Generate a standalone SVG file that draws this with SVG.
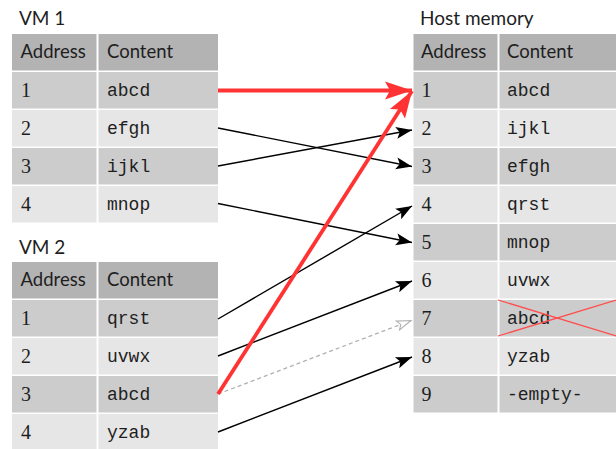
<svg xmlns="http://www.w3.org/2000/svg" width="616" height="449" viewBox="0 0 616 449">
<style>
.hd{fill:#b3b3b3}
.dk{fill:#cccccc}
.lt{fill:#e6e6e6}
.title{font-family:Lato,"Liberation Sans",sans-serif;font-size:19px;fill:#1e1e1e}
.th{font-family:Lato,"Liberation Sans",sans-serif;font-size:18.5px;fill:#1e1e1e}
.num{font-family:"Liberation Serif",serif;font-size:20px;fill:#1e1e1e}
.mono{font-family:"Liberation Mono",monospace;font-size:18px;fill:#1e1e1e}
.blk{stroke:#000;stroke-width:1.4;fill:none}
.red{stroke:#ff3333;stroke-width:3.8;fill:none}
.dash{stroke:#b0b0b0;stroke-width:1.3;stroke-dasharray:4 3;fill:none}
.cross{stroke:#ff4d4d;stroke-width:1.3}
</style>
<defs>
<marker id="ab" markerUnits="userSpaceOnUse" markerWidth="20" markerHeight="14" refX="16" refY="6" orient="auto" overflow="visible">
<path d="M0,0 L16,6 L0,12 L3.5,6 Z" fill="#000"/>
</marker>
<marker id="ar" markerUnits="userSpaceOnUse" markerWidth="30" markerHeight="20" refX="27" refY="9" orient="auto" overflow="visible">
<path d="M0,0 L27,9 L0,18 L5,9 Z" fill="#ff3333"/>
</marker>
<marker id="ag" markerUnits="userSpaceOnUse" markerWidth="20" markerHeight="14" refX="15" refY="5.5" orient="auto" overflow="visible">
<path d="M1,0.8 L15,5.5 L1,10.2 L4,5.5 Z" fill="#fff" stroke="#b0b0b0" stroke-width="1.1"/>
</marker>
</defs>
<rect width="616" height="449" fill="#fff"/>

<g id="vm1">
<text class="title" x="19" y="24.5">VM 1</text>
<rect class="hd" x="12" y="34" width="84.5" height="36.5"/>
<rect class="hd" x="98.5" y="34" width="119.5" height="36.5"/>
<text class="th" x="20.5" y="58">Address</text>
<text class="th" x="107" y="58">Content</text>
<rect class="dk" x="12" y="72" width="84.5" height="36.5"/>
<rect class="dk" x="98.5" y="72" width="119.5" height="36.5"/>
<text class="num" x="21" y="96.5">1</text>
<text class="mono" x="107" y="96">abcd</text>
<rect class="lt" x="12" y="110" width="84.5" height="36.5"/>
<rect class="lt" x="98.5" y="110" width="119.5" height="36.5"/>
<text class="num" x="21" y="134.5">2</text>
<text class="mono" x="107" y="134">efgh</text>
<rect class="dk" x="12" y="148" width="84.5" height="36.5"/>
<rect class="dk" x="98.5" y="148" width="119.5" height="36.5"/>
<text class="num" x="21" y="172.5">3</text>
<text class="mono" x="107" y="172">ijkl</text>
<rect class="lt" x="12" y="186" width="84.5" height="36.5"/>
<rect class="lt" x="98.5" y="186" width="119.5" height="36.5"/>
<text class="num" x="21" y="210.5">4</text>
<text class="mono" x="107" y="210">mnop</text>
</g>

<g id="vm2">
<text class="title" x="19" y="253.5">VM 2</text>
<rect class="hd" x="12" y="262" width="84.5" height="36.5"/>
<rect class="hd" x="98.5" y="262" width="119.5" height="36.5"/>
<text class="th" x="20.5" y="286">Address</text>
<text class="th" x="107" y="286">Content</text>
<rect class="dk" x="12" y="300" width="84.5" height="36.5"/>
<rect class="dk" x="98.5" y="300" width="119.5" height="36.5"/>
<text class="num" x="21" y="324.5">1</text>
<text class="mono" x="107" y="324">qrst</text>
<rect class="lt" x="12" y="338" width="84.5" height="36.5"/>
<rect class="lt" x="98.5" y="338" width="119.5" height="36.5"/>
<text class="num" x="21" y="362.5">2</text>
<text class="mono" x="107" y="362">uvwx</text>
<rect class="dk" x="12" y="376" width="84.5" height="36.5"/>
<rect class="dk" x="98.5" y="376" width="119.5" height="36.5"/>
<text class="num" x="21" y="400.5">3</text>
<text class="mono" x="107" y="400">abcd</text>
<rect class="lt" x="12" y="414" width="84.5" height="36.5"/>
<rect class="lt" x="98.5" y="414" width="119.5" height="36.5"/>
<text class="num" x="21" y="438.5">4</text>
<text class="mono" x="107" y="438">yzab</text>
</g>

<g id="host">
<text class="title" x="420" y="24.5">Host memory</text>
<rect class="hd" x="413.5" y="34" width="84" height="36.5"/>
<rect class="hd" x="499.5" y="34" width="130" height="36.5"/>
<text class="th" x="421" y="58">Address</text>
<text class="th" x="507" y="58">Content</text>
<rect class="dk" x="413.5" y="72" width="84" height="36.5"/>
<rect class="dk" x="499.5" y="72" width="130" height="36.5"/>
<text class="num" x="421.5" y="96.5">1</text>
<text class="mono" x="507" y="96">abcd</text>
<rect class="lt" x="413.5" y="110" width="84" height="36.5"/>
<rect class="lt" x="499.5" y="110" width="130" height="36.5"/>
<text class="num" x="421.5" y="134.5">2</text>
<text class="mono" x="507" y="134">ijkl</text>
<rect class="dk" x="413.5" y="148" width="84" height="36.5"/>
<rect class="dk" x="499.5" y="148" width="130" height="36.5"/>
<text class="num" x="421.5" y="172.5">3</text>
<text class="mono" x="507" y="172">efgh</text>
<rect class="lt" x="413.5" y="186" width="84" height="36.5"/>
<rect class="lt" x="499.5" y="186" width="130" height="36.5"/>
<text class="num" x="421.5" y="210.5">4</text>
<text class="mono" x="507" y="210">qrst</text>
<rect class="dk" x="413.5" y="224" width="84" height="36.5"/>
<rect class="dk" x="499.5" y="224" width="130" height="36.5"/>
<text class="num" x="421.5" y="248.5">5</text>
<text class="mono" x="507" y="248">mnop</text>
<rect class="lt" x="413.5" y="262" width="84" height="36.5"/>
<rect class="lt" x="499.5" y="262" width="130" height="36.5"/>
<text class="num" x="421.5" y="286.5">6</text>
<text class="mono" x="507" y="286">uvwx</text>
<rect class="dk" x="413.5" y="300" width="84" height="36.5"/>
<rect class="dk" x="499.5" y="300" width="130" height="36.5"/>
<text class="num" x="421.5" y="324.5">7</text>
<text class="mono" x="507" y="324">abcd</text>
<line class="cross" x1="498" y1="300" x2="616" y2="336"/>
<line class="cross" x1="498" y1="336" x2="616" y2="300"/>
<rect class="lt" x="413.5" y="338" width="84" height="36.5"/>
<rect class="lt" x="499.5" y="338" width="130" height="36.5"/>
<text class="num" x="421.5" y="362.5">8</text>
<text class="mono" x="507" y="362">yzab</text>
<rect class="dk" x="413.5" y="376" width="84" height="36.5"/>
<rect class="dk" x="499.5" y="376" width="130" height="36.5"/>
<text class="num" x="421.5" y="400.5">9</text>
<text class="mono" x="507" y="400">-empty-</text>
</g>

<g id="connectors">
<line class="blk" x1="218" y1="128" x2="412" y2="166.5" marker-end="url(#ab)"/>
<line class="blk" x1="218" y1="166" x2="412" y2="130" marker-end="url(#ab)"/>
<line class="blk" x1="218" y1="203.5" x2="412" y2="242.5" marker-end="url(#ab)"/>
<line class="blk" x1="218" y1="319" x2="412" y2="206" marker-end="url(#ab)"/>
<line class="blk" x1="218" y1="356" x2="412" y2="281" marker-end="url(#ab)"/>
<line class="dash" x1="218" y1="394" x2="411" y2="320.5" marker-end="url(#ag)"/>
<line class="blk" x1="218" y1="432" x2="412" y2="357" marker-end="url(#ab)"/>
<line class="red" x1="218" y1="90.5" x2="412" y2="90.5" marker-end="url(#ar)"/>
<line class="red" x1="218" y1="394" x2="412" y2="91" marker-end="url(#ar)"/>
</g>
</svg>
